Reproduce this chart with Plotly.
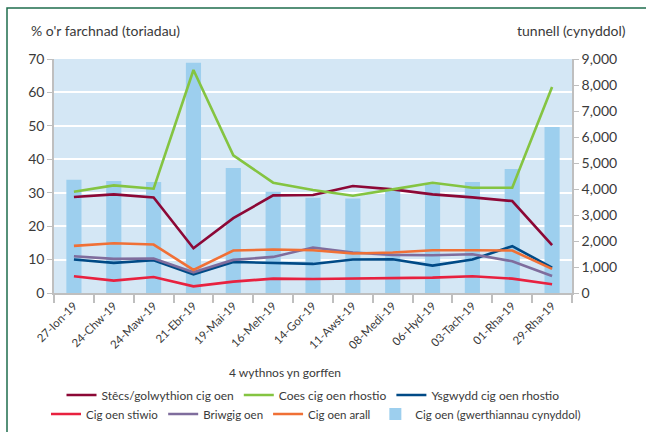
import plotly.graph_objects as go

categories = ["27-Ion-19", "24-Chw-19", "24-Maw-19", "21-Ebr-19", "19-Mai-19", "16-Meh-19",
              "14-Gor-19", "11-Awst-19", "08-Medi-19", "06-Hyd-19", "03-Tach-19", "01-Rha-19", "29-Rha-19"]

steaks = [28.7, 29.5, 28.6, 13.4, 22.4, 29.2, 29.3, 32.0, 31.0, 29.5, 28.6, 27.5, 14.3]
leg_roast = [30.3, 32.2, 31.2, 66.7, 41.2, 33.0, 30.8, 29.1, 31.0, 33.0, 31.5, 31.5, 61.6]
shoulder_roast = [10.0, 9.0, 9.8, 5.6, 9.3, 9.1, 8.7, 10.0, 10.1, 8.2, 10.0, 14.0, 7.6]
stewing = [5.0, 3.7, 4.8, 2.0, 3.4, 4.3, 4.2, 4.3, 4.5, 4.6, 5.0, 4.3, 2.6]
mince = [11.0, 10.2, 10.3, 6.2, 9.9, 10.8, 13.6, 12.1, 11.4, 11.3, 11.6, 9.5, 5.1]
other = [14.1, 14.9, 14.5, 6.9, 12.7, 13.0, 12.8, 11.8, 12.1, 12.8, 12.8, 12.7, 7.2]
volume = [4360, 4310, 4270, 8855, 4810, 3890, 3660, 3630, 3930, 4180, 4270, 4770, 6385]

FONT = "Lato"
TXT = "#3a3a3a"
AX = "#bfbfbf"

# pixel helpers (plot area: x 54..572, y 59..293)
def px(x):
    return (x - 54) / 518

def py(y):
    return (293 - y) / 234

fig = go.Figure()

fig.add_trace(go.Bar(x=categories, y=volume, name="Cig oen (gwerthiannau cynyddol)",
                     marker=dict(color="#9dcfee", line=dict(width=0)),
                     yaxis="y", legend="legend2", legendrank=2000))

line_specs = [
    ("Stêcs/golwythion cig oen", steaks, "#8c0836", "legend"),
    ("Coes cig oen rhostio", leg_roast, "#84c441", "legend"),
    ("Ysgwydd cig oen rhostio", shoulder_roast, "#004a86", "legend"),
    ("Cig oen stiwio", stewing, "#e8213f", "legend2"),
    ("Briwgig oen", mince, "#7f6d9d", "legend2"),
    ("Cig oen arall", other, "#f07036", "legend2"),
]
for name, vals, col, lg in line_specs:
    fig.add_trace(go.Scatter(x=categories, y=vals, name=name, mode="lines",
                             line=dict(color=col, width=2.6), yaxis="y2", legend=lg))

fig.update_layout(
    width=646, height=432,
    margin=dict(l=54, r=74, t=59, b=139, autoexpand=False),
    paper_bgcolor="white",
    plot_bgcolor="#d4e7f5",
    font=dict(family=FONT, size=13, color=TXT),
    bargap=0.62,
    showlegend=True,
    xaxis=dict(type="category", showline=True, linecolor=AX, linewidth=1.5,
               ticks="outside", tickson="boundaries", ticklen=8, tickcolor=AX, tickwidth=1.5,
               tickangle=-45, tickfont=dict(size=11.5, color=TXT), showgrid=False),
    yaxis=dict(side="right", range=[0, 9000], dtick=1000, tickformat=",",
               showgrid=False, zeroline=False, showline=True, linecolor=AX, linewidth=1.5,
               ticks="outside", ticklen=5, tickcolor=AX, tickfont=dict(size=14, color=TXT)),
    yaxis2=dict(overlaying="y", side="left", range=[0, 70], dtick=10,
                showgrid=True, gridcolor="white", gridwidth=2, zeroline=False,
                showline=True, linecolor=AX, linewidth=1.5,
                ticks="outside", ticklen=5, tickcolor=AX, tickfont=dict(size=14, color=TXT)),
    legend=dict(orientation="h", x=0.5, xanchor="center", y=py(395), yanchor="middle",
                font=dict(size=12, color=TXT), bgcolor="rgba(0,0,0,0)", itemwidth=30),
    legend2=dict(orientation="h", x=px(46), xanchor="left", y=py(414), yanchor="middle",
                 font=dict(size=11.5, color=TXT), bgcolor="rgba(0,0,0,0)", itemwidth=30,
                 traceorder="normal"),
    annotations=[
        dict(text="% o'r farchnad (toriadau)", xref="paper", yref="paper",
             x=px(29), y=py(31), xanchor="left", yanchor="middle",
             showarrow=False, font=dict(size=14, color=TXT)),
        dict(text="tunnell (cynyddol)", xref="paper", yref="paper",
             x=px(628), y=py(31), xanchor="right", yanchor="middle",
             showarrow=False, font=dict(size=14, color=TXT)),
        dict(text="4 wythnos yn gorffen", xref="paper", yref="paper",
             x=px(285), y=py(372), xanchor="center", yanchor="middle",
             showarrow=False, font=dict(size=12, color=TXT)),
    ],
    shapes=[
        dict(type="rect", xref="paper", yref="paper",
             x0=px(7), x1=px(680), y0=py(460), y1=py(8),
             line=dict(color="#1f6e4e", width=1.5), fillcolor="rgba(0,0,0,0)", layer="above"),
    ],
)

fig.write_html("out.html", config={"displayModeBar": False},
               post_script="document.body.style.margin='0px';")
